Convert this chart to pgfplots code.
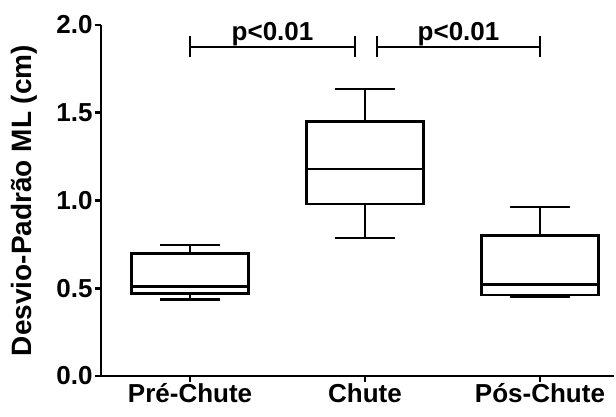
\documentclass[border=0pt]{standalone}
\usepackage{fontspec}
\setmainfont{Liberation Sans}
\usepackage{pgfplots}
\pgfplotsset{compat=1.18}
\usepgfplotslibrary{statistics}

\begin{document}
\begin{tikzpicture}[font=\fontsize{26}{30}\selectfont\bfseries]
% fixed page frame around the axis box (axis box: 513pt x 351pt)
\useasboundingbox (-101pt,-40pt) rectangle (515pt,376pt);
\begin{axis}[
  at={(0pt,0pt)}, anchor=south west,
  scale only axis,
  width=513pt, height=351pt,
  xmin=-0.509, xmax=2.423,
  ymin=0, ymax=2.0,
  axis lines=left,
  axis line style={line width=2.8pt, -},
  clip=false,
  xtick={0,1,2},
  xticklabels={Pré-Chute,Chute,Pós-Chute},
  ytick={0,0.5,1.0,1.5,2.0},
  yticklabel style={xshift=1pt, /pgf/number format/.cd,fixed,fixed zerofill,precision=1,assume math mode=true},
  tick style={line width=2.8pt, black},
  major tick length=6pt,
  tick align=outside,
  xticklabel style={yshift=2pt},
  ylabel={\fontsize{28}{30}\selectfont Desvio-Padrão ML (cm)},
  ylabel style={at={(ticklabel cs:0.5)}, anchor=south, yshift=12pt},
  boxplot/draw direction=y,
  boxplot/box extend=0.67,
  boxplot/whisker extend=0.345,
]
% Pré-Chute
\addplot[black, line width=2.8pt, boxplot prepared={
  draw position=0,
  lower whisker=0.437, lower quartile=0.471,
  median=0.509,
  upper quartile=0.699, upper whisker=0.746}]
  coordinates {};
% Chute
\addplot[black, line width=2.8pt, boxplot prepared={
  draw position=1,
  lower whisker=0.786, lower quartile=0.98,
  median=1.18,
  upper quartile=1.449, upper whisker=1.635}]
  coordinates {};
% Pós-Chute
\addplot[black, line width=2.8pt, boxplot prepared={
  draw position=2,
  lower whisker=0.45, lower quartile=0.462,
  median=0.52,
  upper quartile=0.80, upper whisker=0.963}]
  coordinates {};

% significance brackets
\draw[line width=2.8pt] (axis cs:0,1.875) -- (axis cs:0.943,1.875);
\draw[line width=2.8pt] (axis cs:0,1.815) -- (axis cs:0,1.935);
\draw[line width=2.8pt] (axis cs:0.943,1.815) -- (axis cs:0.943,1.935);
\node[anchor=base] at (axis cs:0.4715,1.91) {p<0.01};
\draw[line width=2.8pt] (axis cs:1.069,1.875) -- (axis cs:2.0,1.875);
\draw[line width=2.8pt] (axis cs:1.069,1.815) -- (axis cs:1.069,1.935);
\draw[line width=2.8pt] (axis cs:2.0,1.815) -- (axis cs:2.0,1.935);
\node[anchor=base] at (axis cs:1.5345,1.91) {p<0.01};
\end{axis}
\end{tikzpicture}
\end{document}
